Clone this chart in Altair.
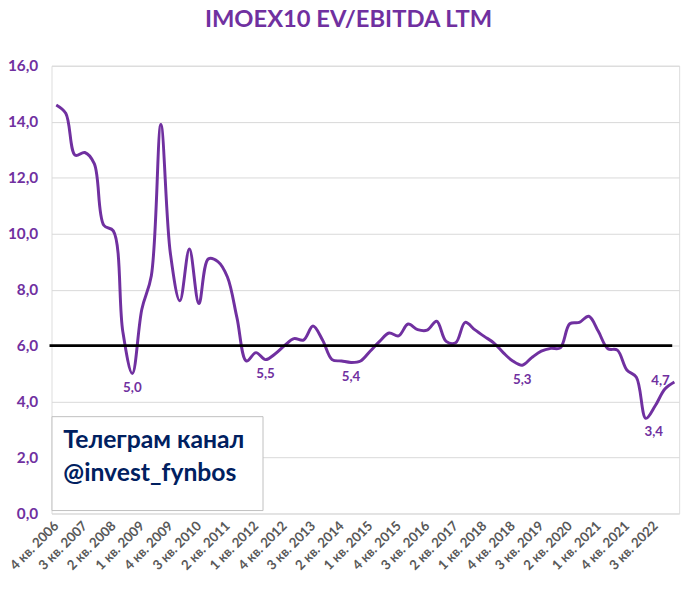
import altair as alt
import pandas as pd

quarters = [
    "4 кв. 2006",
    "1 кв. 2007", "2 кв. 2007", "3 кв. 2007", "4 кв. 2007",
    "1 кв. 2008", "2 кв. 2008", "3 кв. 2008", "4 кв. 2008",
    "1 кв. 2009", "2 кв. 2009", "3 кв. 2009", "4 кв. 2009",
    "1 кв. 2010", "2 кв. 2010", "3 кв. 2010", "4 кв. 2010",
    "1 кв. 2011", "2 кв. 2011", "3 кв. 2011", "4 кв. 2011",
    "1 кв. 2012", "2 кв. 2012", "3 кв. 2012", "4 кв. 2012",
    "1 кв. 2013", "2 кв. 2013", "3 кв. 2013", "4 кв. 2013",
    "1 кв. 2014", "2 кв. 2014", "3 кв. 2014", "4 кв. 2014",
    "1 кв. 2015", "2 кв. 2015", "3 кв. 2015", "4 кв. 2015",
    "1 кв. 2016", "2 кв. 2016", "3 кв. 2016", "4 кв. 2016",
    "1 кв. 2017", "2 кв. 2017", "3 кв. 2017", "4 кв. 2017",
    "1 кв. 2018", "2 кв. 2018", "3 кв. 2018", "4 кв. 2018",
    "1 кв. 2019", "2 кв. 2019", "3 кв. 2019", "4 кв. 2019",
    "1 кв. 2020", "2 кв. 2020", "3 кв. 2020", "4 кв. 2020",
    "1 кв. 2021", "2 кв. 2021", "3 кв. 2021", "4 кв. 2021",
    "1 кв. 2022", "2 кв. 2022", "3 кв. 2022", "4 кв. 2022",
    "1 кв. 2023",
]

ev_ebitda = [
    14.6, 14.3, 12.8, 12.9, 12.5, 10.3, 10.1, 6.5, 5.0, 7.3,
    8.5, 13.9, 9.3, 7.6, 9.45, 7.5, 9.1, 9.0, 8.45, 7.0,
    5.45, 5.75, 5.5, 5.7, 6.0, 6.25, 6.2, 6.7, 6.2, 5.5,
    5.45, 5.4, 5.45, 5.8, 6.15, 6.45, 6.35, 6.77, 6.57, 6.55,
    6.87, 6.15, 6.1, 6.83, 6.57, 6.33, 6.1, 5.75, 5.45, 5.3,
    5.57, 5.8, 5.9, 5.92, 6.78, 6.83, 7.05, 6.51, 5.89, 5.84,
    5.13, 4.87, 3.4, 3.86, 4.45, 4.7,
]

axis_labels = quarters[::3]
below_label_idx = [8, 22, 31, 49]
below_right_label_idx = [62]
left_label_idx = [65]
reference_level = [6.0]
y_ticks = [0, 2, 4, 6, 8, 10, 12, 14, 16]

title_text = "IMOEX10 EV/EBITDA LTM"
box_lines = ["Телеграм канал", "@invest_fynbos"]

PURPLE = "#7030A0"
FONT = "Lato"

df = pd.DataFrame({"q": quarters, "v": ev_ebitda})
df["lbl"] = df["v"].map(lambda x: f"{x:.1f}".replace(".", ","))
below_df = df.iloc[below_label_idx]
below_right_df = df.iloc[below_right_label_idx]
left_df = df.iloc[left_label_idx]
ref_df = pd.DataFrame({"v": reference_level})
line1_df = pd.DataFrame({"t": [box_lines[0]]})
line2_df = pd.DataFrame({"t": [box_lines[1]]})
one = pd.DataFrame({"a": [0]})

xscale = alt.Scale(type="point", padding=0.5, domain=quarters)
xenc = alt.X(
    "q:O",
    sort=None,
    scale=xscale,
    title=None,
    axis=alt.Axis(
        values=axis_labels,
        labelAngle=-45,
        labelAlign="right",
        labelBaseline="middle",
        labelPadding=10,
        labelFontSize=13.5,
        labelFontWeight="bold",
        labelColor="#595959",
        labelFont=FONT,
        ticks=False,
        domain=False,
        grid=False,
        labelOverlap=False,
    ),
)
yscale = alt.Scale(domain=[0, 16], nice=False)
yenc = alt.Y(
    "v:Q",
    title=None,
    scale=yscale,
    axis=alt.Axis(
        values=y_ticks,
        labelExpr="replace(format(datum.value, '.1f'), '.', ',')",
        labelFontSize=15.5,
        labelFontWeight="bold",
        labelColor=PURPLE,
        labelFont=FONT,
        labelPadding=14,
        ticks=False,
        domain=False,
        gridColor="#D9D9D9",
        gridWidth=1,
    ),
)

line = alt.Chart(df).mark_line(
    color=PURPLE, strokeWidth=3, interpolate="catmull-rom"
).encode(x=xenc, y=yenc)

ref = alt.Chart(ref_df).mark_rule(color="black", strokeWidth=3).encode(
    y=alt.Y("v:Q"), x=alt.value(-2), x2=alt.value(628)
)

lab_style = dict(fontSize=13.5, fontWeight="bold", color=PURPLE, font=FONT)
lab_below = alt.Chart(below_df).mark_text(dy=15, **lab_style).encode(
    x=alt.X("q:O", sort=None), y=alt.Y("v:Q"), text="lbl:N")
lab_below_right = alt.Chart(below_right_df).mark_text(dx=8, dy=14, **lab_style).encode(
    x=alt.X("q:O", sort=None), y=alt.Y("v:Q"), text="lbl:N")
lab_left = alt.Chart(left_df).mark_text(dx=-14, dy=-1, **lab_style).encode(
    x=alt.X("q:O", sort=None), y=alt.Y("v:Q"), text="lbl:N")

box = alt.Chart(one).mark_rect(
    fill="white", stroke="#BFBFBF", strokeWidth=1
).encode(x=alt.value(0.5), x2=alt.value(214), y=alt.value(355), y2=alt.value(450))

txt_style = dict(align="left", baseline="middle", fontSize=25, fontWeight="bold",
                 color="#002060", font=FONT)
box_t1 = alt.Chart(line1_df).mark_text(**txt_style).encode(
    x=alt.value(12), y=alt.value(379), text="t:N")
box_t2 = alt.Chart(line2_df).mark_text(**txt_style).encode(
    x=alt.value(12), y=alt.value(412), text="t:N")

chart = alt.layer(
    line, ref, lab_below, lab_below_right, lab_left, box, box_t1, box_t2
).properties(
    width=635,
    height=453,
    title=alt.TitleParams(
        title_text, fontSize=24, fontWeight="bold", color=PURPLE, font=FONT,
        anchor="middle", dx=-17, offset=27,
    ),
    autosize=alt.AutoSizeParams(type="none"),
    padding={"left": 44, "top": 55, "right": 13, "bottom": 80},
).configure_view(stroke=None).configure(background="white")

chart.save("out.html", embed_options={"renderer": "svg", "actions": False})
